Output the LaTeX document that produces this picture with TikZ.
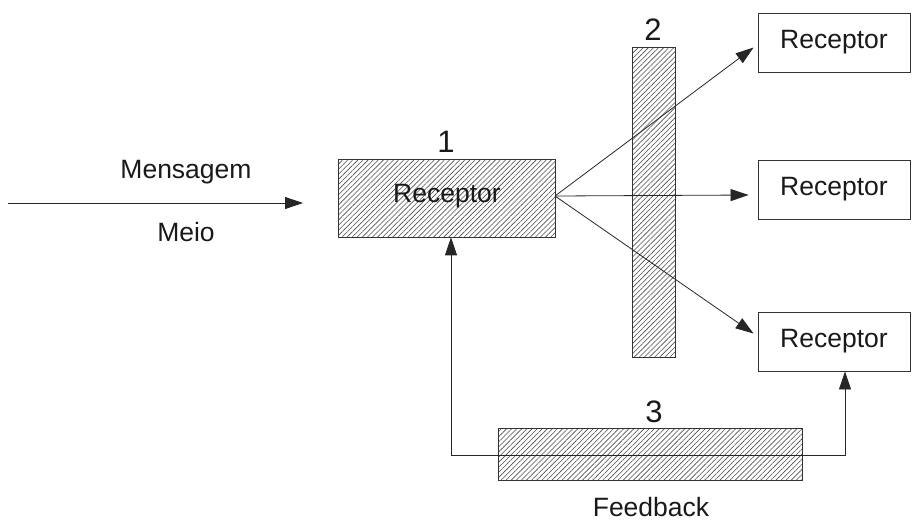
\documentclass[tikz,border=0pt]{standalone}
\usepackage{fontspec}
\setmainfont{Liberation Sans}
\usetikzlibrary{patterns.meta,arrows.meta,calc}
\begin{document}
\begin{tikzpicture}[x=1pt,y=-1pt,
  lbl/.style={font=\fontsize{26.5}{30}\selectfont, text=black!90, inner sep=0pt},
  num/.style={font=\fontsize{31}{34}\selectfont, text=black!90, inner sep=0pt},
  box/.style={draw=black!80, line width=0.9pt, fill=white, inner sep=0pt},
  hatch/.style={draw=black!80, line width=0.9pt, inner sep=0pt,
     pattern={Lines[angle=45,distance=3.6pt,line width=0.6pt]}, pattern color=black!70},
  arr/.style={draw=black!85, line width=0.8pt, -{Triangle[length=18pt,width=12pt]}},
  ln/.style={draw=black!85, line width=0.8pt}
]
\useasboundingbox (0,0) rectangle (913,523);
% boxes
\node[hatch, minimum width=217pt, minimum height=78pt] (r1) at (446.5,198) {};
\node[lbl] (r1t) at (447,196) {Receptor};
\node[hatch, minimum width=43pt, minimum height=310pt] (b2) at (654,202) {};
\node[hatch, minimum width=304pt, minimum height=52pt] (b3) at (650,454) {};
\node[box, minimum width=152pt, minimum height=59pt, lbl] (rtop) at (834,42.5) {Receptor};
\node[box, minimum width=152pt, minimum height=59pt, lbl] (rmid) at (834,189.5) {Receptor};
\node[box, minimum width=152pt, minimum height=59pt, lbl] (rbot) at (834,341.5) {Receptor};
% numbers
\node[num] (n1) at (446,142) {1};
\node[num] (n2) at (653,30) {2};
\node[num] (n3) at (654,412) {3};
% labels
\node[lbl] (msg) at (186,172) {Mensagem};
\node[lbl] (meio) at (186,232) {Meio};
\node[lbl] (fb) at (651,507) {Feedback};
% input arrow
\coordinate (inS) at (8,203);
\coordinate (inE) at (303,203);
\draw[arr] (inS) -- (inE);
% outgoing arrows
\coordinate (o) at (555,196);
\draw[arr] (o) -- ($(rtop.west)+(-4,5)$);
\draw[arr] (o) -- ($(rmid.west)+(-9,5.5)$);
\draw[arr] (o) -- ($(rbot.west)+(-4,-8)$);
% feedback
\coordinate (fbL) at (451,455);
\coordinate (fbR) at (845,455);
\draw[arr] (fbL) -- (r1.south -| fbL);
\draw[arr] (fbL) -- (fbR) -- (rbot.south -| fbR);
\end{tikzpicture}
\end{document}
